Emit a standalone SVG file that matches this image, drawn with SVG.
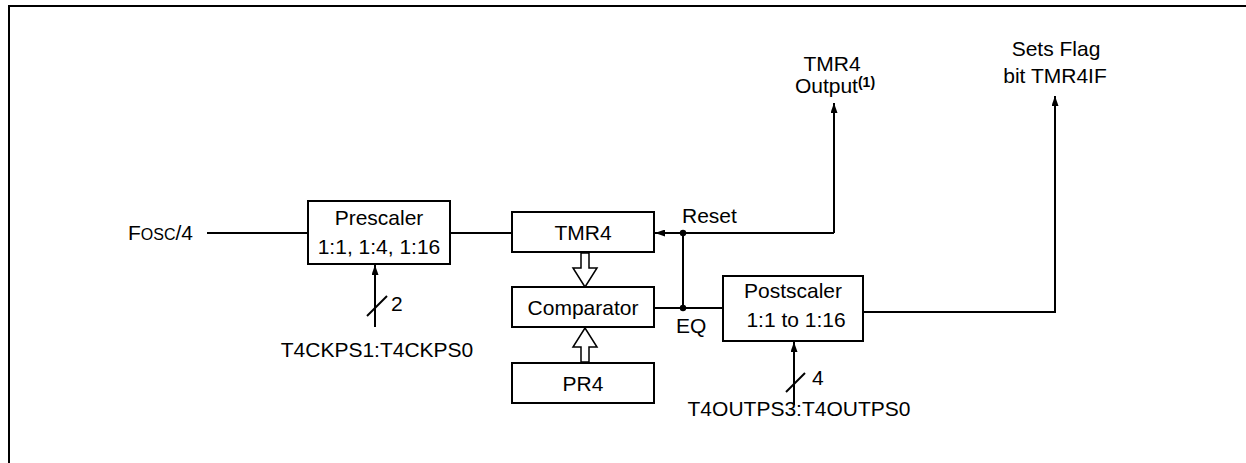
<svg xmlns="http://www.w3.org/2000/svg" width="1246" height="463" viewBox="0 0 1246 463">
<defs>
<style>
text{font-family:"Liberation Sans",Arial,sans-serif;font-size:21px;fill:#000}
.c{text-anchor:middle}
.box{fill:#fff;stroke:#000;stroke-width:2}
.ln{fill:none;stroke:#000;stroke-width:2}
.hollow{fill:#fff;stroke:#000;stroke-width:1.5}
</style>
<marker id="ah" viewBox="0 0 10 7" refX="10" refY="3.5" markerWidth="10" markerHeight="7" markerUnits="userSpaceOnUse" orient="auto">
<path d="M0,0 L10,3.5 L0,7 Z" fill="#000"/>
</marker>
</defs>
<rect width="1246" height="463" fill="#fff"/>
<path class="ln" d="M9,463 V6 H1246" stroke-width="2.5"/>

<g id="connectors">
<path class="ln" d="M207,233 H308"/>
<path class="ln" d="M450,233 H512"/>
<path class="ln" d="M834,233 H655" marker-end="url(#ah)"/>
<path class="ln" d="M834,233 V103" marker-end="url(#ah)"/>
<path class="ln" d="M683,233 V308"/>
<path class="ln" d="M654,308 H723"/>
<circle cx="683" cy="233" r="3.2" fill="#000"/>
<circle cx="683" cy="308" r="3.2" fill="#000"/>
<path class="ln" d="M863,312 H1055 V96" marker-end="url(#ah)"/>
<path class="ln" d="M375,327 V265" marker-end="url(#ah)"/>
<path class="ln" d="M367,316 L387,296" stroke-width="1.2"/>
<path class="ln" d="M794,405 V342" marker-end="url(#ah)"/>
<path class="ln" d="M786,392 L805,373" stroke-width="1.2"/>
<path class="hollow" d="M581,253 V268 H573 L585,287 L597,268 H589 V253 Z"/>
<path class="hollow" d="M581,362 V347 H573 L585,328 L597,347 H589 V362 Z"/>
</g>

<g id="fosc"><text x="128" y="240">F<tspan font-size="16">OSC</tspan>/4</text></g>

<g id="prescaler">
<rect class="box" x="308" y="201" width="142" height="63"/>
<text class="c" x="379" y="225">Prescaler</text>
<text class="c" x="379" y="254">1:1, 1:4, 1:16</text>
</g>
<g id="prescaler-sel">
<text x="391" y="311">2</text>
<text class="c" x="377" y="357">T4CKPS1:T4CKPS0</text>
</g>

<g id="tmr4">
<rect class="box" x="512" y="212" width="142" height="40"/>
<text class="c" x="583" y="240">TMR4</text>
</g>
<g id="comparator">
<rect class="box" x="512" y="287" width="142" height="40"/>
<text class="c" x="583" y="315">Comparator</text>
</g>
<g id="pr4">
<rect class="box" x="512" y="363" width="142" height="40"/>
<text class="c" x="583" y="391">PR4</text>
</g>

<g id="reset-label"><text x="682" y="223">Reset</text></g>
<g id="eq-label"><text x="676" y="333">EQ</text></g>

<g id="postscaler">
<rect class="box" x="723" y="276" width="140" height="65"/>
<text class="c" x="793" y="298">Postscaler</text>
<text class="c" x="796" y="327">1:1 to 1:16</text>
</g>
<g id="postscaler-sel">
<text x="812" y="385">4</text>
<text class="c" x="799" y="416">T4OUTPS3:T4OUTPS0</text>
</g>

<g id="tmr4-output">
<text class="c" x="832" y="71">TMR4</text>
<text class="c" x="835" y="93">Output<tspan font-size="14" font-weight="bold" dy="-6">(1)</tspan></text>
</g>
<g id="flag">
<text class="c" x="1056" y="56">Sets Flag</text>
<text class="c" x="1055" y="83">bit TMR4IF</text>
</g>
</svg>
